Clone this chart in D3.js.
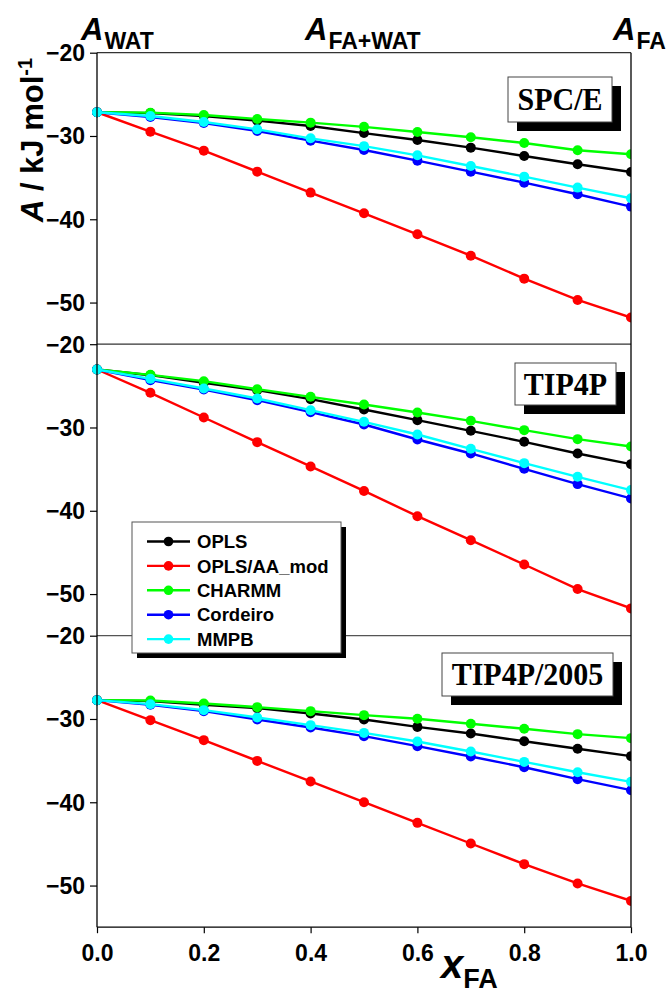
<!DOCTYPE html>
<html><head><meta charset="utf-8">
<script src="https://cdn.jsdelivr.net/npm/d3@7"></script>
<style>
html,body{margin:0;padding:0;background:#fff;}
svg{display:block;}
text{font-family:"Liberation Sans",Arial,sans-serif;font-weight:bold;}
</style></head>
<body>
<svg id="chart" width="669" height="994"></svg>
<script>
// ---- data ----
const xFA = [0.0,0.1,0.2,0.3,0.4,0.5,0.6,0.7,0.8,0.9,1.0];
const seriesNames = ["OPLS","OPLS/AA_mod","CHARMM","Cordeiro","MMPB"];
const seriesColors = ["#000000","#ff0000","#00ff00","#0000ff","#00ffff"];
const panelNames = ["SPC/E","TIP4P","TIP4P/2005"];
const yTicks = [-20,-30,-40,-50];
const xTicks = [0.0,0.2,0.4,0.6,0.8,1.0];
const xTickLabels = ["0.0","0.2","0.4","0.6","0.8","1.0"];

const spceOPLS     = [-27.15,-27.25,-27.6,-28.16,-28.8,-29.65,-30.48,-31.4,-32.4,-33.4,-34.32];
const spceAAmod    = [-27.15,-29.48,-31.76,-34.28,-36.8,-39.28,-41.8,-44.37,-47.13,-49.69,-51.8];
const spceCHARMM   = [-27.15,-27.2,-27.48,-27.96,-28.4,-28.9,-29.52,-30.16,-30.84,-31.72,-32.2];
const spceCordeiro = [-27.15,-27.72,-28.44,-29.4,-30.56,-31.68,-32.96,-34.28,-35.6,-37.0,-38.48];
const spceMMPB     = [-27.15,-27.6,-28.32,-29.2,-30.28,-31.22,-32.32,-33.6,-34.88,-36.2,-37.48];

const tip4pOPLS     = [-23.04,-23.72,-24.64,-25.52,-26.6,-27.84,-29.12,-30.4,-31.72,-33.12,-34.4];
const tip4pAAmod    = [-23.04,-25.84,-28.8,-31.76,-34.68,-37.62,-40.65,-43.53,-46.45,-49.4,-51.72];
const tip4pCHARMM   = [-23.04,-23.68,-24.44,-25.4,-26.32,-27.24,-28.2,-29.2,-30.32,-31.4,-32.28];
const tip4pCordeiro = [-23.04,-24.32,-25.44,-26.72,-28.16,-29.64,-31.44,-33.12,-34.96,-36.8,-38.52];
const tip4pMMPB     = [-23.04,-24.16,-25.32,-26.52,-27.92,-29.32,-30.84,-32.56,-34.28,-35.92,-37.52];

const t2005OPLS     = [-27.74,-27.86,-28.3,-28.7,-29.34,-30.06,-30.95,-31.74,-32.67,-33.58,-34.46];
const t2005AAmod    = [-27.74,-30.14,-32.54,-35.03,-37.5,-39.99,-42.47,-44.95,-47.43,-49.75,-51.84];
const t2005CHARMM   = [-27.74,-27.78,-28.14,-28.58,-29.06,-29.54,-29.98,-30.58,-31.18,-31.82,-32.3];
const t2005Cordeiro = [-27.74,-28.3,-29.06,-30.06,-31.02,-32.06,-33.26,-34.5,-35.79,-37.23,-38.55];
const t2005MMPB     = [-27.74,-28.22,-28.94,-29.82,-30.74,-31.67,-32.7,-33.9,-35.15,-36.39,-37.55];

const panelData = [
  [spceOPLS, spceAAmod, spceCHARMM, spceCordeiro, spceMMPB],
  [tip4pOPLS, tip4pAAmod, tip4pCHARMM, tip4pCordeiro, tip4pMMPB],
  [t2005OPLS, t2005AAmod, t2005CHARMM, t2005Cordeiro, t2005MMPB]
];

// ---- layout ----
const svg = d3.select("#chart");
const left = 97, right = 631;
const top0 = 52.7, panelH = 291.5;
const x = d3.scaleLinear().domain([0,1]).range([left,right]);
const SANS = "'Liberation Sans',Arial,sans-serif";
const SERIF = "'Liberation Serif','Times New Roman',serif";

svg.append("defs").append("clipPath").attr("id","clipR")
  .append("rect").attr("x",0).attr("y",0).attr("width",right).attr("height",994);

const labelBoxes = [
  {x:508, y:77, w:104, h:45, base:110},
  {x:515, y:363, w:101, h:42, base:395},
  {x:442, y:653, w:171, h:43, base:685}
];

panelNames.forEach((pname, pi) => {
  const pt = top0 + pi*panelH;
  const y = d3.scaleLinear().domain([-20,-55]).range([pt, pt+panelH]);
  const g = svg.append("g");

  const ax = g.append("g").attr("transform",`translate(${left},0)`)
    .call(d3.axisLeft(y).tickValues(yTicks).tickSize(7).tickPadding(5).tickFormat(d3.format("d")));
  ax.select(".domain").remove();
  ax.selectAll(".tick line").attr("stroke","#000").attr("stroke-width",1.2);
  ax.selectAll(".tick text").attr("fill","#000")
    .style("font-family",SANS).style("font-weight","bold").style("font-size","23px")
    .attr("dy","0.34em");

  const lb = labelBoxes[pi];
  g.append("rect").attr("x",lb.x+9).attr("y",lb.y+9).attr("width",lb.w).attr("height",lb.h).attr("fill","#000");
  g.append("rect").attr("x",lb.x).attr("y",lb.y).attr("width",lb.w).attr("height",lb.h)
    .attr("fill","#fff").attr("stroke","#444").attr("stroke-width",1);
  g.append("text").attr("transform",`translate(${lb.x+lb.w/2},${lb.base}) scale(1,1.08)`)
    .attr("text-anchor","middle")
    .style("font-family",SERIF).style("font-size","30px").style("font-weight","bold").text(pname);

  const lines = g.append("g").attr("clip-path","url(#clipR)");
  panelData[pi].forEach((vals, si) => {
    const pts = xFA.map((xv,i)=>[xv, vals[i]]);
    const line = d3.line().x(d=>x(d[0])).y(d=>y(d[1]));
    lines.append("path").attr("d",line(pts)).attr("fill","none")
      .attr("stroke",seriesColors[si]).attr("stroke-width",2.4);
    lines.selectAll(null).data(pts).enter().append("circle")
      .attr("cx",d=>x(d[0])).attr("cy",d=>y(d[1])).attr("r",5).attr("fill",seriesColors[si]);
  });
});

// frame lines
const frame = svg.append("g").attr("stroke","#000").attr("stroke-width",1.3);
frame.append("line").attr("x1",left).attr("x2",right).attr("y1",top0).attr("y2",top0).attr("stroke","#333");
frame.append("line").attr("x1",left).attr("x2",right).attr("y1",top0+panelH).attr("y2",top0+panelH).attr("stroke","#333");
frame.append("line").attr("x1",left).attr("x2",right).attr("y1",top0+2*panelH).attr("y2",top0+2*panelH).attr("stroke","#555");
frame.append("line").attr("x1",left).attr("x2",left).attr("y1",top0).attr("y2",top0+3*panelH);
frame.append("line").attr("x1",right).attr("x2",right).attr("y1",top0).attr("y2",top0+3*panelH);

// bottom axis
const bottomY = top0 + 3*panelH;
const bx = svg.append("g").attr("transform",`translate(0,${bottomY})`)
  .call(d3.axisBottom(x).tickValues(xTicks).tickSize(6).tickPadding(7).tickFormat((d,i)=>xTickLabels[i]));
bx.select(".domain").attr("stroke","#000").attr("stroke-width",1.3).attr("d",`M${left},0H${right}`);
bx.selectAll(".tick line").attr("stroke","#000").attr("stroke-width",1.2);
bx.selectAll(".tick text").attr("fill","#000")
  .style("font-family",SANS).style("font-weight","bold").style("font-size","23px")
  .attr("dy","0.9em");

// legend
const lg = svg.append("g");
const legX = 132, legY = 522, legW = 209, legH = 131;
lg.append("rect").attr("x",legX+5).attr("y",legY+5).attr("width",legW).attr("height",legH).attr("fill","#000");
lg.append("rect").attr("x",legX).attr("y",legY).attr("width",legW).attr("height",legH)
  .attr("fill","#fff").attr("stroke","#555").attr("stroke-width",1);
seriesNames.forEach((n,i)=>{
  const yy = legY + 19.5 + i*24.4;
  lg.append("line").attr("x1",147).attr("x2",190).attr("y1",yy).attr("y2",yy)
    .attr("stroke",seriesColors[i]).attr("stroke-width",2.4);
  lg.append("circle").attr("cx",168.5).attr("cy",yy).attr("r",4.8).attr("fill",seriesColors[i]);
  lg.append("text").attr("x",197).attr("y",yy+6.6).style("font-size","18.5px").text(n);
});

// header labels
function subLabel(xp, sub){
  const t = svg.append("text").attr("x",xp).attr("y",40);
  t.append("tspan").style("font-style","italic").style("font-size","31px").text("A");
  t.append("tspan").style("font-size","23px").attr("dy",9).attr("dx",1).text(sub);
}
subLabel(81,"WAT");
subLabel(305,"FA+WAT");
subLabel(613,"FA");

// y axis title
const yt = svg.append("text").attr("transform","translate(43,140) rotate(-90)").attr("text-anchor","middle");
yt.append("tspan").style("font-style","italic").style("font-size","31px").text("A");
yt.append("tspan").style("font-size","31px").text(" / kJ mol");
yt.append("tspan").style("font-size","20px").attr("dy",-11).text("-1");

// x axis title
const xt = svg.append("text").attr("x",441).attr("y",978);
xt.append("tspan").style("font-style","italic").style("font-size","40px").text("x");
xt.append("tspan").style("font-size","27px").attr("dy",10).text("FA");
</script>
</body></html>
